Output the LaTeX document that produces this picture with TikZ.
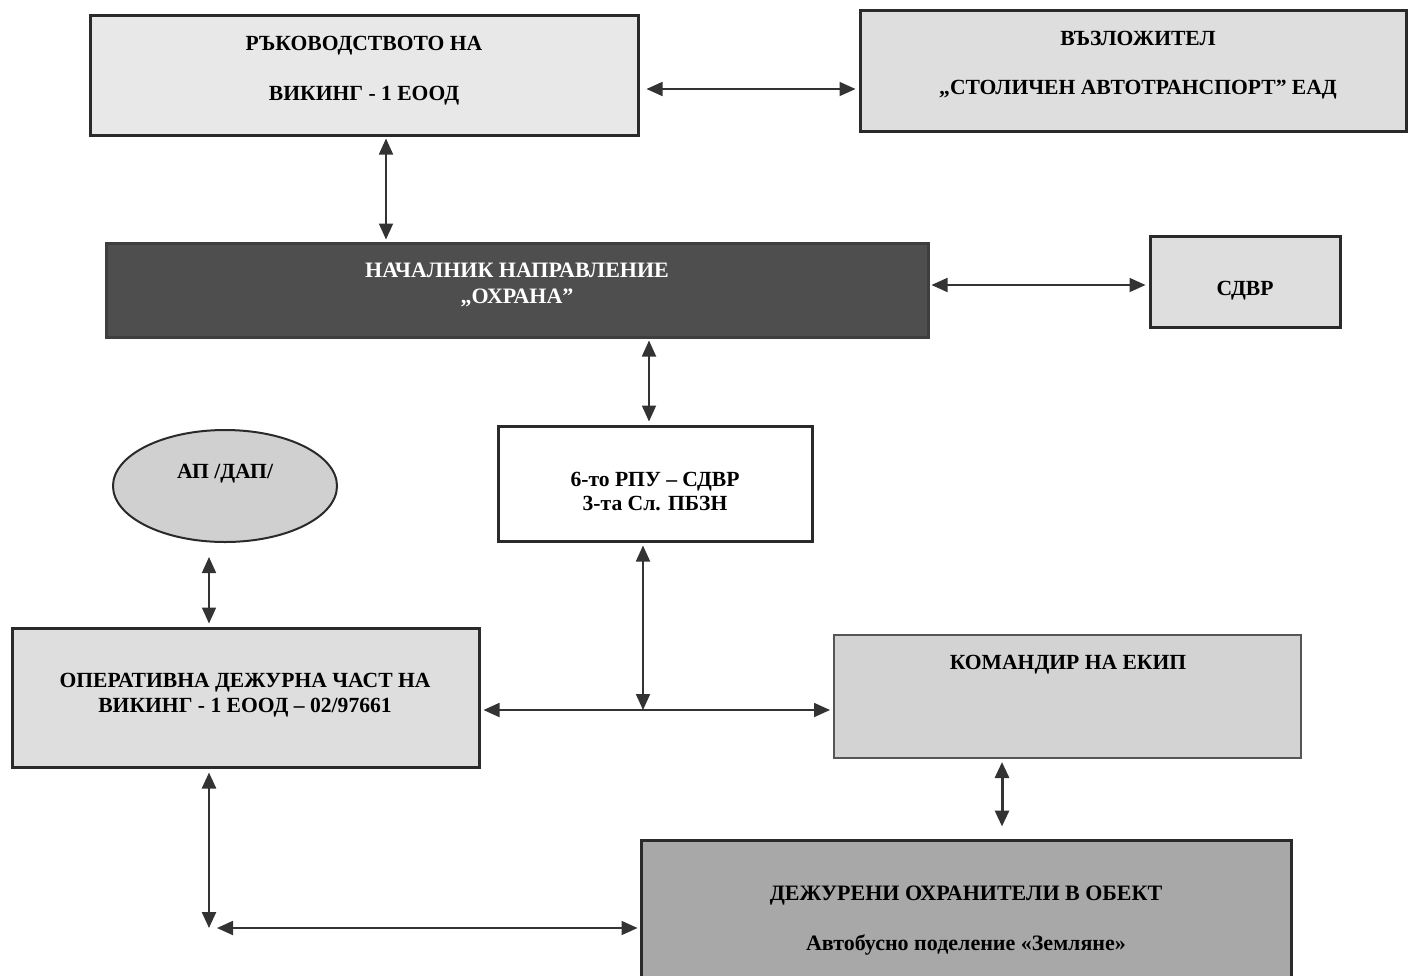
\documentclass[tikz,border=0pt]{standalone}
\usepackage{fontspec}
\setmainfont{Liberation Serif}
\usetikzlibrary{arrows.meta,shapes.geometric}
\definecolor{edge}{HTML}{2A2A2A}
\definecolor{lite}{HTML}{E8E8E8}
\definecolor{lite2}{HTML}{DEDEDE}
\definecolor{darkfill}{HTML}{4E4E4E}
\definecolor{midfill}{HTML}{A8A8A8}
\definecolor{ellfill}{HTML}{D0D0D0}
\definecolor{arrcol}{HTML}{333333}
\tikzset{
  x=1pt, y=-1pt,
  boxnode/.style={draw=edge, line width=3pt, rectangle, inner sep=0pt},
  txt/.style={font=\fontsize{21.6}{24}\selectfont\bfseries, text=black, inner sep=0pt, anchor=base},
  bigtxt/.style={txt, font=\fontsize{22}{24}\selectfont\bfseries},
  wtxt/.style={bigtxt, text=white},
  link/.style={draw=arrcol, line width=1.8pt, {Triangle[length=16pt,width=14pt]}-{Triangle[length=16pt,width=14pt]}},
  thicklink/.style={link, line width=3pt},
}
\begin{document}
\begin{tikzpicture}
\useasboundingbox (0,0) rectangle (1408,975);
% boxes
\node[boxnode, fill=lite, minimum width=548, minimum height=120] (ruk) at (364,75) {};
\node[boxnode, fill=lite2, minimum width=546, minimum height=121] (vaz) at (1133,70.5) {};
\node[boxnode, draw=darkfill!80!black, fill=darkfill, minimum width=822, minimum height=94] (nach) at (517,290) {};
\node[boxnode, fill=lite2, minimum width=190, minimum height=91] (sdvr) at (1245,281.5) {};
\node[draw=edge, line width=2pt, ellipse, fill=ellfill, minimum width=224, minimum height=112, inner sep=0pt] (ap) at (225,486) {};
\node[boxnode, fill=white, minimum width=314, minimum height=115] (rpu) at (655,483.5) {};
\node[boxnode, fill=lite2, minimum width=467, minimum height=139] (odch) at (245.5,697.5) {};
\node[boxnode, draw=edge!80, line width=2pt, fill=lite2!95!black, minimum width=467, minimum height=123] (kom) at (1067.5,696.5) {};
\node[boxnode, fill=midfill, minimum width=650, minimum height=140] (dej) at (966,910) {};
% texts
\node[txt] (ruk1) at (364,50) {РЪКОВОДСТВОТО НА};
\node[txt] (ruk2) at (364,100) {ВИКИНГ - 1 ЕООД};
\node[txt] (vaz1) at (1138,45) {ВЪЗЛОЖИТЕЛ};
\node[txt] (vaz2) at (1138,94) {„СТОЛИЧЕН АВТОТРАНСПОРТ” ЕАД};
\node[wtxt] (nach1) at (517,277) {НАЧАЛНИК НАПРАВЛЕНИЕ};
\node[wtxt] (nach2) at (517,303) {„ОХРАНА”};
\node[txt] (sdvr1) at (1245,295) {СДВР};
\node[txt] (ap1) at (225,478) {АП /ДАП/};
\node[txt] (rpu1) at (655,486) {6-то РПУ – СДВР};
\node[txt] (rpu2) at (655,510) {3-та Сл. ПБЗН};
\node[txt] (odch1) at (245,687) {ОПЕРАТИВНА ДЕЖУРНА ЧАСТ НА};
\node[txt] (odch2) at (245,712) {ВИКИНГ - 1 ЕООД – 02/97661};
\node[txt] (kom1) at (1068,669) {КОМАНДИР НА ЕКИП};
\node[bigtxt] (dej1) at (966,900) {ДЕЖУРЕНИ ОХРАНИТЕЛИ В ОБЕКТ};
\node[bigtxt] (dej2) at (966,950) {Автобусно поделение «Земляне»};
% connector helper points
\coordinate (jn) at (643,710);
\coordinate (cornerA) at (209,928);
% connectors
\draw[link] ([xshift=7pt]ruk.east |- 0,89) -- ([xshift=-3pt]vaz.west |- 0,89);
\draw[link] ([yshift=-2pt]ruk.south -| 386,0) -- ([yshift=2pt]nach.north -| 386,0);
\draw[link] ([xshift=2pt]nach.east |- 0,285) -- ([xshift=-3pt]sdvr.west |- 0,285);
\draw[link] ([yshift=-2pt]nach.south -| 649,0) -- ([yshift=3pt]rpu.north -| 649,0);
\draw[link] ([yshift=-3pt]rpu.south -| jn) -- (jn);
\draw[link] ([xshift=3pt]odch.east |- jn) -- ([xshift=-3pt]kom.west |- jn);
\draw[link] ([yshift=-14pt]ap.south -| 209,0) -- ([yshift=3pt]odch.north -| 209,0);
\draw[link, line width=2.4pt] ([yshift=-4pt]odch.south -| cornerA) -- (cornerA);
\draw[link] ([xshift=8pt]cornerA) -- ([xshift=-2pt]dej.west |- cornerA);
\draw[thicklink] ([yshift=-3pt]kom.south -| 1002,0) -- ([yshift=12pt]dej.north -| 1002,0);
\end{tikzpicture}
\end{document}
